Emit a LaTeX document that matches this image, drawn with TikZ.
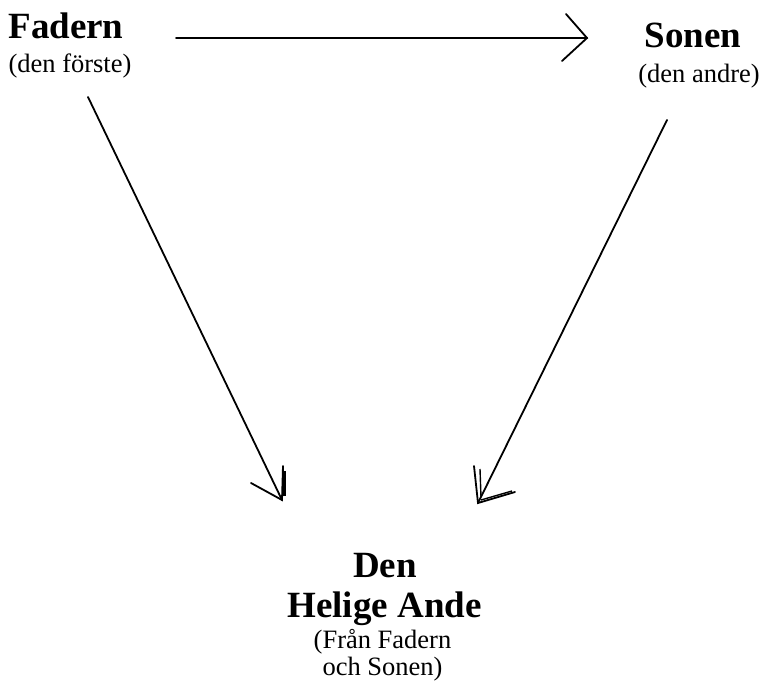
\documentclass[tikz,border=0pt]{standalone}
\usepackage{fontspec}
\setmainfont{Liberation Serif}
\begin{document}
\begin{tikzpicture}[x=1pt,y=-1pt,
  big/.style={inner sep=0pt,anchor=base,font=\bfseries\fontsize{37}{40}\selectfont},
  small/.style={inner sep=0pt,anchor=base,font=\fontsize{26.5}{28}\selectfont},
  ln/.style={line width=1.8pt,line cap=round}]
\useasboundingbox (0,0) rectangle (764,687);
% texts
\node[big] (fadern) at (66,39) {Fadern};
\node[small] (fsub) at (70,73) {(den förste)};
\node[big] (sonen) at (693,48) {Sonen};
\node[small] (ssub) at (699,83) {(den andre)};
\node[big] (den) at (385,577) {Den};
\node[big] (helig) at (384.5,617) {Helige Ande};
\node[small] (hsub1) at (382.5,648) {(Från Fadern};
\node[small] (hsub2) at (382.5,675) {och Sonen)};
% connector ends
\coordinate (h0) at (176,38);
\coordinate (h1) at (587,38);
\coordinate (l0) at (88,97);
\coordinate (l1) at (282,500);
\coordinate (r0) at (667,120);
\coordinate (r1) at (478,503);
% connectors
\draw[ln] (h0) -- (h1);
\draw[ln] (l0) -- (l1);
\draw[ln] (r0) -- (r1);
% arrowheads
\draw[ln] (566,14) -- (h1) -- (562,61);
\draw[ln] (251,483) -- (l1) -- (283,466);
\draw[line width=2.4pt] (284.5,471) -- (284.5,496);
\draw[ln] (474,466) -- (r1) -- (515,492);
\draw[line width=1.4pt] (480,469) -- (481,497);
\draw[line width=1.4pt] (481,500) -- (512,491);
\end{tikzpicture}
\end{document}
